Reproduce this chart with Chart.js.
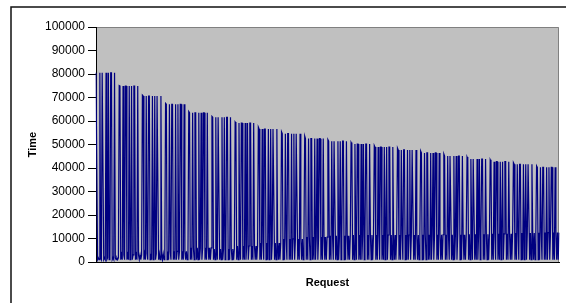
<!DOCTYPE html>
<html lang="en">
<head>
    <meta charset="UTF-8">
    <title>Request Time</title>
    <script src="https://cdn.jsdelivr.net/npm/chart.js"></script>
    <style>
        html, body {
            margin: 0;
            padding: 0;
            background-color: white;
        }
        canvas {
            display: block;
        }
    </style>
</head>
<body>
    <canvas id="timeChart" width="566" height="303"></canvas>

    <script>
        // Peak time of each block of requests
        const groupTops = [80500, 74900, 70600, 67100, 63500, 61600, 59100, 56600, 54600, 52500,
                           51400, 50200, 48900, 47700, 46400, 45100, 43800, 42700, 41600, 40300];
        // First request of each block sits a little higher
        const groupLeadTops = [80500, 75100, 71000, 67500, 64000, 62000, 59600, 57400, 55400, 53600,
                               52100, 50900, 49600, 48500, 47200, 46000, 44700, 43500, 42300, 40900];
        // Upper edge of the dense band near the bottom
        const groupBands = [1800, 3000, 3500, 4500, 6000, 5500, 6800, 8100, 9800, 10600,
                            11200, 11500, 11500, 11500, 11600, 11600, 11800, 12000, 12300, 12500];
        const requestFloor = 1000;
        // Order of peak / band / floor requests inside one block
        const blockPattern = ['F', 'T', 'L', 'M', 'L', 'T', 'M', 'L', 'T', 'T',
                              'L', 'M', 'L', 'T', 'L', 'M', 'T', 'L', 'M', 'T',
                              'T', 'L', 'M', 'L', 'T', 'M', 'L', 'M', 'L', 'M'];

        const timeValues = [];
        groupTops.forEach((top, g) => {
            blockPattern.forEach(code => {
                if (code === 'F') timeValues.push(groupLeadTops[g]);
                else if (code === 'T') timeValues.push(top);
                else if (code === 'M') timeValues.push(groupBands[g]);
                else timeValues.push(requestFloor);
            });
        });
        const requestLabels = timeValues.map((_, i) => i + 1);

        const frame = {
            id: 'frame',
            beforeDraw(chart) {
                const {ctx, chartArea: a} = chart;
                ctx.save();
                ctx.fillStyle = '#c0c0c0';
                ctx.fillRect(a.left, a.top, a.right - a.left, a.bottom - a.top);
                ctx.strokeStyle = '#808080';
                ctx.lineWidth = 1;
                ctx.beginPath();
                ctx.moveTo(a.left, a.top + 0.5);
                ctx.lineTo(a.right - 0.5, a.top + 0.5);
                ctx.lineTo(a.right - 0.5, a.bottom);
                ctx.stroke();
                // outer chart border
                ctx.strokeStyle = '#111';
                ctx.lineWidth = 1.5;
                ctx.beginPath();
                ctx.moveTo(11, chart.height);
                ctx.lineTo(11, 7);
                ctx.lineTo(chart.width, 7);
                ctx.stroke();
                ctx.restore();
            }
        };

        const labelFont = {family: '"Liberation Sans", Arial, sans-serif', size: 12};
        const titleFont = {family: '"Liberation Sans", Arial, sans-serif', size: 11, weight: 'bold'};

        new Chart(document.getElementById('timeChart'), {
            type: 'line',
            data: {
                labels: requestLabels,
                datasets: [{
                    data: timeValues,
                    borderColor: '#000080',
                    borderWidth: 1.2,
                    pointRadius: 0,
                    tension: 0,
                    fill: false
                }]
            },
            options: {
                responsive: false,
                animation: false,
                devicePixelRatio: 1,
                layout: {
                    padding: {top: 27, right: 7, left: 0, bottom: 0}
                },
                plugins: {
                    legend: {display: false},
                    tooltip: {enabled: false}
                },
                scales: {
                    x: {
                        ticks: {display: false},
                        grid: {display: false},
                        border: {display: true, color: '#000'},
                        title: {
                            display: true,
                            text: 'Request',
                            color: '#000',
                            font: titleFont,
                            padding: {top: 0, bottom: 13}
                        },
                        afterFit(scale) {
                            scale.height = 41;
                        }
                    },
                    y: {
                        min: 0,
                        max: 100000,
                        ticks: {
                            stepSize: 10000,
                            color: '#000',
                            font: labelFont,
                            padding: 3,
                            callback: value => String(value)
                        },
                        grid: {
                            drawOnChartArea: false,
                            drawTicks: true,
                            tickLength: 8,
                            color: '#000'
                        },
                        border: {color: '#000'},
                        title: {
                            display: true,
                            text: 'Time',
                            color: '#000',
                            font: titleFont,
                            padding: {top: 26, bottom: 0}
                        },
                        afterFit(scale) {
                            scale.width = 96;
                        }
                    }
                }
            },
            plugins: [frame]
        });
    </script>
</body>
</html>
